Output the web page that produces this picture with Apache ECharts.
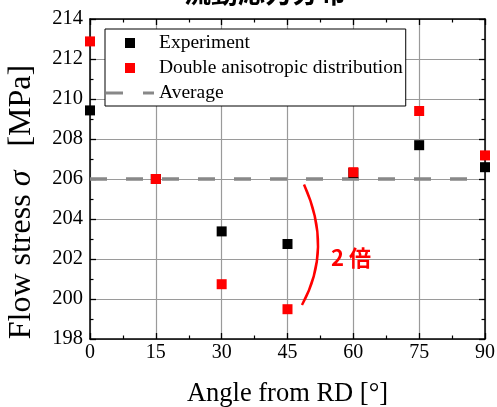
<!DOCTYPE html>
<html>
<head>
<meta charset="utf-8">
<script src="https://cdn.jsdelivr.net/npm/echarts@6/dist/echarts.min.js"></script>
<style>
  html, body { margin: 0; padding: 0; background: #fff; }
  #chart { width: 497px; height: 407px; }
</style>
</head>
<body>
<div id="chart"></div>
<script>
// Flow stress vs. angle from rolling direction
const angles = [0, 15, 30, 45, 60, 75, 90];
const experiment = [209.43, 206.0, 203.38, 202.75, 206.3, 207.69, 206.59];
const doubleAnisotropic = [212.88, 206.0, 200.74, 199.49, 206.34, 209.40, 207.18];
const averageStress = 206.0;
const seriesNames = ['Experiment', 'Double anisotropic distribution', 'Average'];
const xTicks = { min: 0, max: 90, interval: 15 };
const yTicks = { min: 198, max: 214, interval: 2 };

// bracket annotation: arc ends / bend and label anchor, in data units
const bracketTop = [48.76, 205.72];
const bracketBend = [55.37, 202.51];
const bracketBottom = [48.3, 199.7];
const bracketLabelAt = [54.9, 202.09];
const bracketLabel = '2 倍';
const titleText = '流動応力分布';

const serif = "'Liberation Serif', 'Times New Roman', serif";

// legend glyphs on a 48x10 box: a centred square, and two dashes
// (tiny corner sub-paths pin the bounding box so nothing stretches)
const pinBox = 'M0,0 h0.001 v0.001 z M48,10 h-0.001 v-0.001 z ';
const squareIcon = 'path://' + pinBox + 'M19,0 h10 v10 h-10 z';
const dashIcon = 'path://' + pinBox + 'M0,3.4 h17 v3.2 h-17 z M37,3.4 h11 v3.2 h-11 z';

const chart = echarts.init(document.getElementById('chart'));

function frameAxis(extra) {
  return Object.assign({
    axisLine: { show: true, onZero: false, lineStyle: { color: '#000', width: 1.5 } },
    axisTick: { show: true, inside: true, length: 6, lineStyle: { color: '#000', width: 1.3 } },
    minorTick: { show: true, splitNumber: 2, length: 3.5, lineStyle: { color: '#000', width: 1.2 } },
    axisLabel: { show: false },
    splitLine: { show: false }
  }, extra);
}

const option = {
  animation: false,
  backgroundColor: '#fff',
  grid: { left: 90, right: 12, top: 19, bottom: 68, containLabel: false, outerBoundsMode: 'none' },
  legend: {
    data: [
      { name: seriesNames[0], icon: squareIcon },
      { name: seriesNames[1], icon: squareIcon },
      { name: seriesNames[2], icon: dashIcon }
    ],
    orient: 'vertical',
    left: 105,
    top: 29,
    padding: [4, 3, 3, 1],
    itemGap: 5,
    itemWidth: 48,
    itemHeight: 10,
    itemTextGap: 3,
    borderColor: '#000',
    borderWidth: 1,
    borderRadius: 0,
    backgroundColor: '#fff',
    textStyle: { fontFamily: serif, fontSize: 19.5, color: '#000', lineHeight: 19 }
  },
  xAxis: [
    frameAxis({
      type: 'value', position: 'bottom',
      min: xTicks.min, max: xTicks.max, interval: xTicks.interval,
      name: 'Angle from RD [°]', nameLocation: 'middle', nameGap: 42,
      nameTextStyle: { fontFamily: serif, fontSize: 26.5, color: '#000' },
      axisLabel: { show: true, fontFamily: serif, fontSize: 20, color: '#000', margin: 4 },
      splitLine: { show: true, lineStyle: { color: '#9a9a9a', width: 1.2 } }
    }),
    frameAxis({
      type: 'value', position: 'top',
      min: xTicks.min, max: xTicks.max, interval: xTicks.interval
    })
  ],
  yAxis: [
    frameAxis({
      type: 'value', position: 'left',
      min: yTicks.min, max: yTicks.max, interval: yTicks.interval,
      name: '{n|Flow stress }{s|σ}{n|   [MPa]}', nameLocation: 'middle', nameGap: 52,
      nameRotate: 90,
      nameTextStyle: {
        padding: [0, 46, 0, 0],
        rich: {
          n: { fontFamily: serif, fontSize: 32, color: '#000' },
          s: { fontFamily: serif, fontSize: 32, fontStyle: 'italic', color: '#000' }
        }
      },
      axisLabel: { show: true, fontFamily: serif, fontSize: 20.5, color: '#000', margin: 7 },
      splitLine: { show: true, lineStyle: { color: '#9a9a9a', width: 1.2 } }
    }),
    frameAxis({
      type: 'value', position: 'right',
      min: yTicks.min, max: yTicks.max, interval: yTicks.interval
    })
  ],
  series: [
    {
      name: seriesNames[2],
      type: 'line',
      z: 2,
      symbol: 'none',
      data: [[xTicks.min, averageStress], [xTicks.max, averageStress]],
      lineStyle: { color: '#888', width: 3.5, type: [17, 19] },
      itemStyle: { color: '#888' }
    },
    {
      name: seriesNames[0],
      type: 'scatter',
      z: 3,
      symbol: 'rect',
      symbolSize: 10,
      itemStyle: { color: '#000', opacity: 1 },
      data: angles.map((a, i) => [a, experiment[i]])
    },
    {
      name: seriesNames[1],
      type: 'scatter',
      z: 4,
      symbol: 'rect',
      symbolSize: 10,
      itemStyle: { color: '#ff0000', opacity: 1 },
      data: angles.map((a, i) => [a, doubleAnisotropic[i]])
    }
  ]
};

chart.setOption(option);

// red bracket and its label, placed through the axis scales
const p0 = chart.convertToPixel({ gridIndex: 0 }, bracketTop);
const c1 = chart.convertToPixel({ gridIndex: 0 }, bracketBend);
const p1 = chart.convertToPixel({ gridIndex: 0 }, bracketBottom);
const lp = chart.convertToPixel({ gridIndex: 0 }, bracketLabelAt);

chart.setOption({
  graphic: [
    {
      type: 'text',
      style: {
        x: 265, y: 6,
        text: titleText,
        fontFamily: "'Noto Sans CJK JP', sans-serif",
        fontWeight: 'bold',
        fontSize: 27,
        fill: '#000',
        textAlign: 'center',
        textVerticalAlign: 'bottom'
      }
    },
    {
      type: 'bezierCurve',
      z: 10,
      shape: { x1: p0[0], y1: p0[1], cpx1: c1[0], cpy1: c1[1], x2: p1[0], y2: p1[1] },
      style: { stroke: '#ff0000', lineWidth: 2.5, fill: null }
    },
    {
      type: 'text',
      z: 10,
      style: {
        x: lp[0], y: lp[1],
        text: bracketLabel,
        fontFamily: "'Noto Sans CJK JP', sans-serif",
        fontWeight: 'bold',
        fontSize: 22,
        fill: '#ff0000',
        textAlign: 'left',
        textVerticalAlign: 'middle'
      }
    }
  ]
});
</script>
</body>
</html>
